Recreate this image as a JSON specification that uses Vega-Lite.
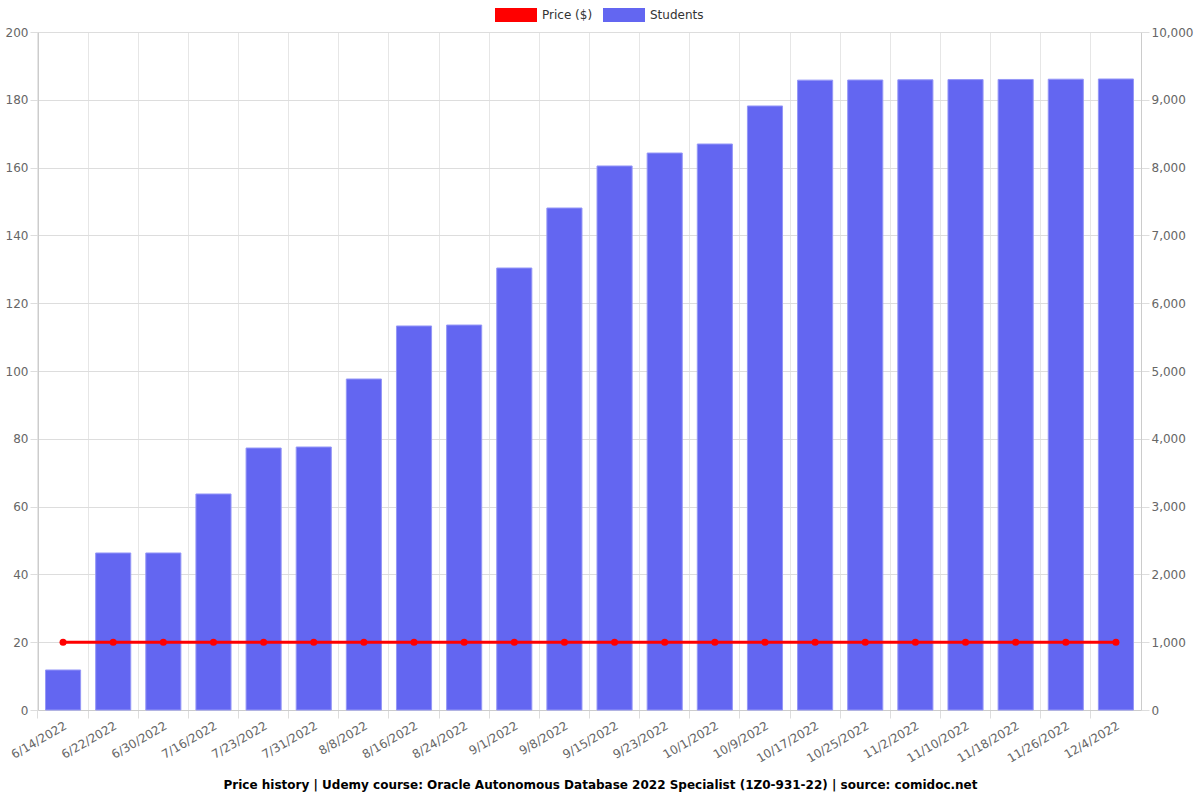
{
  "$schema": "https://vega.github.io/schema/vega-lite/v6.json",
  "autosize": {"type": "none"},
  "width": 1103,
  "height": 678,
  "padding": {"left": 38, "top": 32, "right": 59, "bottom": 90},
  "config": {
    "font": "DejaVu Sans",
    "view": {"stroke": null},
    "axis": {"labelFont": "DejaVu Sans", "labelFontSize": 12, "labelColor": "#666666", "domainColor": "#cccccc", "tickColor": "#dddddd", "gridColor": "#dddddd", "tickSize": 8, "titleFontSize": 12}
  },
  "title": {"text": "Price history | Udemy course: Oracle Autonomous Database 2022 Specialist (1Z0-931-22) | source: comidoc.net", "orient": "bottom", "anchor": "middle", "fontSize": 12, "fontWeight": "bold", "font": "DejaVu Sans", "color": "#000000", "offset": 16, "dx": 11},
  "data": {"values": [
    {"date": "6/14/2022", "students": 590, "price": 20},
    {"date": "6/22/2022", "students": 2316, "price": 20},
    {"date": "6/30/2022", "students": 2316, "price": 20},
    {"date": "7/16/2022", "students": 3186, "price": 20},
    {"date": "7/23/2022", "students": 3864, "price": 20},
    {"date": "7/31/2022", "students": 3879, "price": 20},
    {"date": "8/8/2022", "students": 4882, "price": 20},
    {"date": "8/16/2022", "students": 5664, "price": 20},
    {"date": "8/24/2022", "students": 5678, "price": 20},
    {"date": "9/1/2022", "students": 6519, "price": 20},
    {"date": "9/8/2022", "students": 7404, "price": 20},
    {"date": "9/15/2022", "students": 8024, "price": 20},
    {"date": "9/23/2022", "students": 8215, "price": 20},
    {"date": "10/1/2022", "students": 8348, "price": 20},
    {"date": "10/9/2022", "students": 8909, "price": 20},
    {"date": "10/17/2022", "students": 9290, "price": 20},
    {"date": "10/25/2022", "students": 9292, "price": 20},
    {"date": "11/2/2022", "students": 9295, "price": 20},
    {"date": "11/10/2022", "students": 9298, "price": 20},
    {"date": "11/18/2022", "students": 9300, "price": 20},
    {"date": "11/26/2022", "students": 9304, "price": 20},
    {"date": "12/4/2022", "students": 9307, "price": 20}
  ]},
  "encoding": {
    "x": {"field": "date", "type": "ordinal", "sort": null, "title": null,
      "scale": {"paddingInner": 0.3, "paddingOuter": 0.15},
      "axis": {"labelAngle": -30, "bandPosition": -0.2143, "labelOffset": 0, "grid": true, "gridColor": "#e6e6e6", "labelPadding": 2}}
  },
  "layer": [
    {
      "mark": {"type": "bar", "stroke": "#9597f7", "strokeWidth": 1},
      "encoding": {
        "y": {"field": "students", "type": "quantitative", "title": null,
          "scale": {"domain": [0, 10000]},
          "axis": {"orient": "right", "grid": false, "format": ",.0f", "tickCount": 10}},
        "color": {"datum": "Students", "type": "nominal",
          "scale": {"domain": ["Price ($)", "Students"], "range": ["#ff0000", "#6366f1"]},
          "legend": {"title": null, "orient": "none", "direction": "horizontal", "legendX": 457, "legendY": -38,
            "symbolType": "M-1,-0.333H1V0.333H-1Z", "symbolSize": 1764, "symbolStrokeWidth": 0, "symbolOpacity": 1,
            "labelFontSize": 12, "labelColor": "#333333", "columnPadding": 10, "labelOffset": 5}}
      }
    },
    {
      "mark": {"type": "line", "color": "#ff0000", "strokeWidth": 3},
      "encoding": {
        "y": {"field": "price", "type": "quantitative", "title": null,
          "scale": {"domain": [0, 200]},
          "axis": {"orient": "left", "grid": true, "tickCount": 10}}
      }
    },
    {
      "mark": {"type": "point", "filled": true, "color": "#ff0000", "size": 50, "opacity": 1},
      "encoding": {
        "y": {"field": "price", "type": "quantitative", "scale": {"domain": [0, 200]}, "axis": null}
      }
    }
  ],
  "resolve": {"scale": {"y": "independent"}}
}
